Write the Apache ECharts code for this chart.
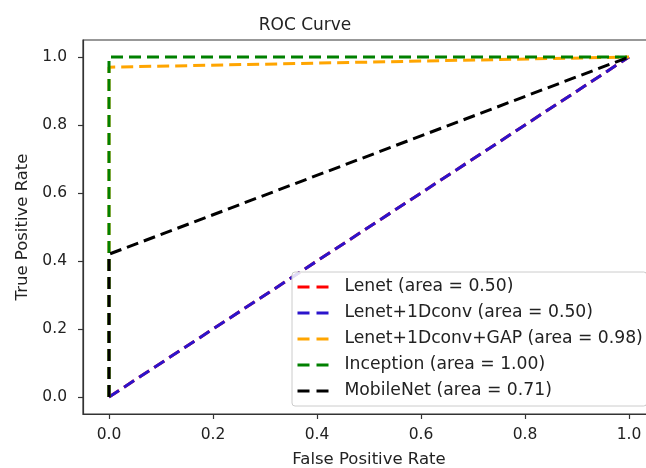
<!DOCTYPE html>
<html>
<head>
<meta charset="utf-8">
<script src="https://cdn.jsdelivr.net/npm/echarts@6/dist/echarts.min.js"></script>
<style>html,body{margin:0;padding:0;background:#fff;}#c{width:646px;height:468px;}</style>
</head>
<body>
<div id="c"></div>
<script>
const seriesNames = ['Lenet (area = 0.50)', 'Lenet+1Dconv (area = 0.50)', 'Lenet+1Dconv+GAP (area = 0.98)', 'Inception (area = 1.00)', 'MobileNet (area = 0.71)'];
const seriesColors = ['#ff0000', '#2b14cc', '#ffa500', '#008000', '#000000'];
const fprLenet = [0, 1];
const tprLenet = [0, 1];
const fprLenet1D = [0, 1];
const tprLenet1D = [0, 1];
const fprGAP = [0, 0, 1];
const tprGAP = [0, 0.97, 1];
const fprInception = [0, 0, 1];
const tprInception = [0, 1, 1];
const fprMobile = [0, 0, 1];
const tprMobile = [0, 0.42, 1];
const tickValues = [0, 0.2, 0.4, 0.6, 0.8, 1.0];

const fprs = [fprLenet, fprLenet1D, fprGAP, fprInception, fprMobile];
const tprs = [tprLenet, tprLenet1D, tprGAP, tprInception, tprMobile];
const textColor = '#222';
const font = 'DejaVu Sans';

const series = seriesNames.map((name, i) => ({
  name: name,
  type: 'line',
  data: fprs[i].map((x, j) => [x, tprs[i][j]]),
  symbol: 'none',
  showSymbol: false,
  z: 2 + i,
  lineStyle: { color: seriesColors[i], width: 3, type: [12, 6] },
  itemStyle: { color: seriesColors[i] },
  animation: false
}));

function axisCommon(name) {
  return {
    type: 'value', min: -0.05, max: 1.05,
    name: name, nameLocation: 'middle',
    nameTextStyle: { color: textColor, fontFamily: font, fontSize: 16.5 },
    axisLine: { show: true, onZero: false, lineStyle: { color: '#333', width: 1.2 } },
    axisTick: { show: true, inside: false, length: 5, customValues: tickValues, lineStyle: { color: '#333', width: 1.2 } },
    axisLabel: { customValues: tickValues, color: textColor, fontFamily: font, fontSize: 15.5, formatter: v => v.toFixed(1) },
    splitLine: { show: false }
  };
}

const chart = echarts.init(document.getElementById('c'));
const xAxis = axisCommon('False Positive Rate');
xAxis.nameGap = 37;
xAxis.axisLabel.margin = 13;
const yAxis = axisCommon('True Positive Rate');
yAxis.nameGap = 52;
yAxis.axisLabel.margin = 16;

chart.setOption({
  backgroundColor: '#fff',
  animation: false,
  title: {
    text: 'ROC Curve', left: 300, top: 12, textAlign: 'center',
    textStyle: { color: textColor, fontFamily: font, fontSize: 17, fontWeight: 'normal' }
  },
  grid: { left: 83, top: 40, width: 572, height: 374, outerBoundsMode: 'none', containLabel: false, show: true, borderColor: '#333', borderWidth: 1.2, backgroundColor: '#fff' },
  xAxis: xAxis,
  yAxis: yAxis,
  legend: {
    data: seriesNames,
    orient: 'vertical',
    z: 20,
    left: 292, top: 272,
    itemWidth: 32, itemHeight: 14, itemGap: 6,
    padding: [5, 4, 5, 4],
    backgroundColor: 'rgba(255,255,255,0.85)',
    borderColor: '#ccc', borderWidth: 1, borderRadius: 3,
    itemStyle: { opacity: 0 },
    lineStyle: { width: 3, type: [12, 7] },
    textStyle: { color: textColor, fontFamily: font, fontSize: 17.2, lineHeight: 20, padding: [0, 0, 0, 10] }
  },
  series: series
});
</script>
</body>
</html>
